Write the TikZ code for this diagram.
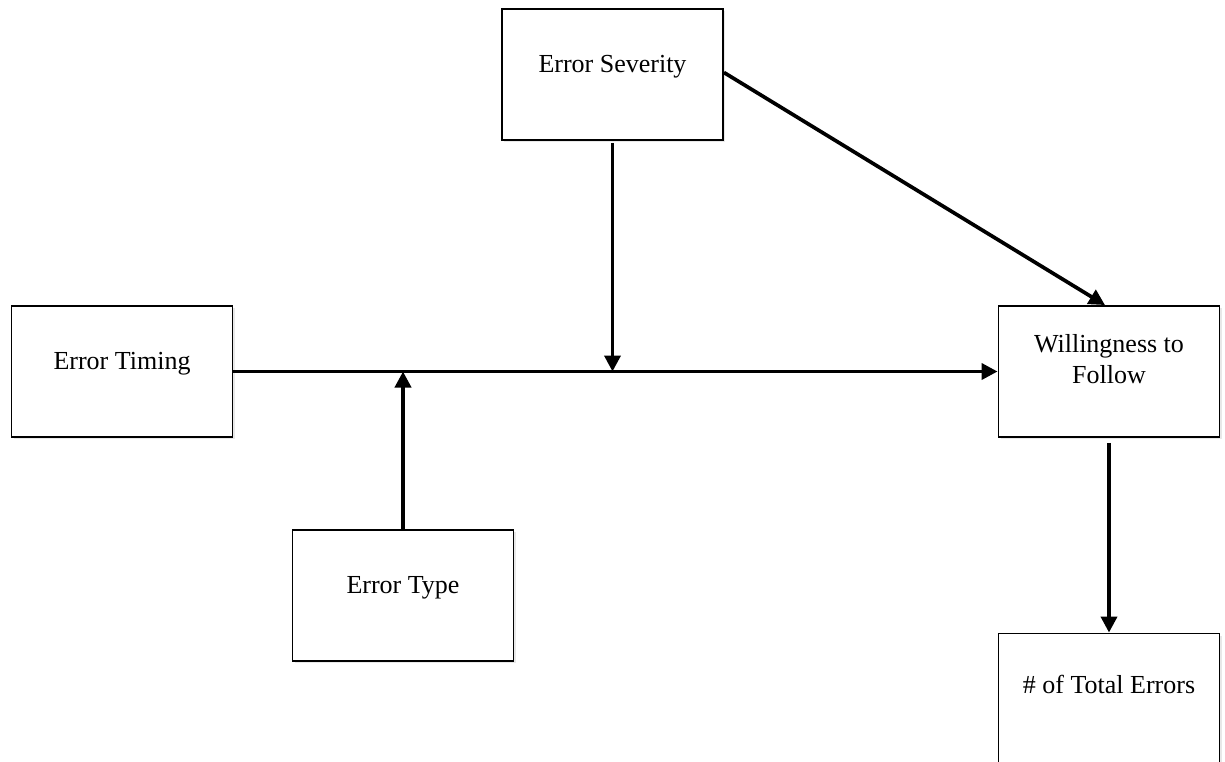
\documentclass[tikz,border=0pt]{standalone}
\usepackage{fontspec}
\setmainfont{Liberation Serif}
\usetikzlibrary{arrows.meta,shadows}
\newcommand\boxtxt[2][16pt]{\parbox[c][131pt][c]{221pt}{\centering #2\par\vspace{#1}}}
\tikzset{
  varbox/.style={draw=black, line width=1.9pt, fill=white, inner sep=0pt,
    font=\fontsize{26}{31}\selectfont,
    drop shadow={opacity=0.18, shadow xshift=2pt, shadow yshift=-2pt}},
  link/.style={line width=3.7pt, -{Triangle[length=16pt,width=16pt]}}
}
\begin{document}
\begin{tikzpicture}[x=1pt,y=-1pt]
\useasboundingbox (0,0) rectangle (1225,761);
\node[varbox] (sev) at (612.5,74.5) {\boxtxt{Error Severity}};
\node[varbox] (tim) at (122,371.5) {\boxtxt{Error Timing}};
\node[varbox] (wil) at (1109,371.5) {\boxtxt[24pt]{Willingness to\\Follow}};
\node[varbox] (typ) at (403,595.5) {\boxtxt{Error Type}};
\node[varbox] (tot) at (1109,699) {\boxtxt[30pt]{\# of Total Errors}};
\coordinate (jsev) at (sev.south |- tim.east);
\coordinate (jtyp) at (typ.north |- tim.east);
\draw[link] (tim.east) -- (wil.west);
\draw[link, shorten <=2pt] (sev.south) -- (jsev);
\draw[link] (typ.north) -- (jtyp);
\draw[link] ([yshift=2pt]sev.east) -- ([xshift=-4pt]wil.north);
\draw[link, shorten <=5pt] (wil.south) -- (tot.north);
\end{tikzpicture}
\end{document}
